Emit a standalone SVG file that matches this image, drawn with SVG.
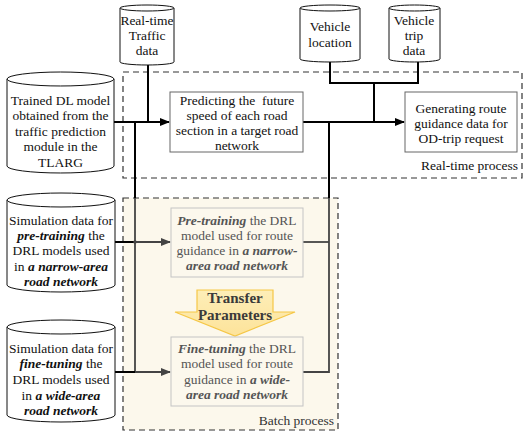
<svg xmlns="http://www.w3.org/2000/svg" width="523" height="435" viewBox="0 0 523 435" font-family="Liberation Serif, DejaVu Serif, serif">
<defs>
<marker id="ah" markerWidth="10" markerHeight="8" refX="9" refY="4" orient="auto" markerUnits="userSpaceOnUse"><path d="M0,0 L10,4 L0,8 Z" fill="#000"/></marker>
<marker id="ahg" markerWidth="10" markerHeight="8" refX="9" refY="4" orient="auto" markerUnits="userSpaceOnUse"><path d="M0,0 L10,4 L0,8 Z" fill="#444"/></marker>
<linearGradient id="yg" x1="0" y1="0" x2="0" y2="1"><stop offset="0" stop-color="#fdeeb8"/><stop offset="1" stop-color="#fde39a"/></linearGradient>
</defs>
<style>
text{font-family:'Liberation Serif','Times New Roman',serif;font-size:13.5px;fill:#111;text-anchor:middle}
.g text{fill:#555}
.bi{font-weight:bold;font-style:italic}
.cyl{fill:#fff;stroke:#111;stroke-width:1}
.box{fill:#fff;stroke:#666;stroke-width:1}
.bbox{fill:#fcf8ed;stroke:#c4c4c4;stroke-width:1}
.dash{fill:none;stroke:#333;stroke-width:1.2;stroke-dasharray:6,4}
.ln{fill:none;stroke:#000;stroke-width:2}
.lg{fill:none;stroke:#444;stroke-width:1.8}
.lbl{text-anchor:end}
</style>

<rect x="123" y="198" width="215" height="232" fill="#fcf8ec"/>
<rect class="dash" x="123" y="198" width="215" height="232"/>
<rect class="dash" x="123" y="72" width="399" height="106"/>

<g id="connectors">
<path class="ln" d="M148,65 V122"/>
<path class="ln" d="M114,122 H169" marker-end="url(#ah)"/>
<path class="ln" d="M135,122 V198"/>
<path class="lg" d="M135,198 V372"/>
<path class="ln" d="M115,242 H135"/>
<path class="lg" d="M135,242 H170" marker-end="url(#ahg)"/>
<path class="ln" d="M115,372 H135"/>
<path class="lg" d="M135,372 H170" marker-end="url(#ahg)"/>
<path class="ln" d="M303,122 H404" marker-end="url(#ah)"/>
<path class="ln" d="M330,62 V83 H418 V62"/>
<path class="ln" d="M374,83 V122"/>
<path class="ln" d="M329,122 V198"/>
<path class="lg" d="M329,198 V372 H303"/>
<path class="lg" d="M303,242 H329"/>
<circle cx="135" cy="242" r="1.8" fill="#444"/>
</g>

<g id="realtime-traffic">
<path class="cyl" d="M120,8 A27,3 0 0 1 174,8 V62 A27,3 0 0 1 120,62 Z"/>
<path class="cyl" d="M120,8 A27,3 0 0 0 174,8"/>
<text x="147" y="24.5">Real-time</text>
<text x="147" y="39.5">Traffic</text>
<text x="147" y="54.5">data</text>
</g>

<g id="vehicle-location">
<path class="cyl" d="M300,8 A30,3 0 0 1 360,8 V59 A30,3 0 0 1 300,59 Z"/>
<path class="cyl" d="M300,8 A30,3 0 0 0 360,8"/>
<text x="330" y="31">Vehicle</text>
<text x="330" y="47">location</text>
</g>

<g id="vehicle-trip">
<path class="cyl" d="M389,8 A25.5,3 0 0 1 440,8 V59 A25.5,3 0 0 1 389,59 Z"/>
<path class="cyl" d="M389,8 A25.5,3 0 0 0 440,8"/>
<text x="414" y="24.5">Vehicle</text>
<text x="414" y="39.5">trip</text>
<text x="414" y="54.5">data</text>
</g>

<g id="trained-dl">
<path class="cyl" d="M7,79 A53.5,7 0 0 1 114,79 V166 A53.5,7 0 0 1 7,166 Z"/>
<path class="cyl" d="M7,79 A53.5,7 0 0 0 114,79"/>
<text x="60.5" y="104.5">Trained DL model</text>
<text x="60.5" y="120">obtained from the</text>
<text x="60.5" y="135.5">traffic prediction</text>
<text x="60.5" y="151">module in the</text>
<text x="60.5" y="166.5">TLARG</text>
</g>

<g id="predicting">
<rect class="box" x="170" y="92" width="133" height="60"/>
<text x="237" y="104.5" xml:space="preserve">Predicting the  future</text>
<text x="237" y="119.5">speed of each road</text>
<text x="237" y="134.5">section in a target road</text>
<text x="237" y="150">network</text>
</g>

<g id="generating">
<rect class="box" x="405" y="92" width="112" height="60"/>
<text x="461" y="112.5">Generating route</text>
<text x="461" y="127.5">guidance data for</text>
<text x="461" y="142.5">OD-trip request</text>
</g>

<text class="lbl" x="518" y="169.5">Real-time process</text>

<g id="sim-pretraining">
<path class="cyl" d="M7,200 A54,7 0 0 1 115,200 V285 A54,7 0 0 1 7,285 Z"/>
<path class="cyl" d="M7,200 A54,7 0 0 0 115,200"/>
<text x="61" y="224.5">Simulation data for</text>
<text x="61" y="239.5"><tspan class="bi">pre-training</tspan> the</text>
<text x="61" y="254.5">DRL models used</text>
<text x="61" y="270.5">in <tspan class="bi">a narrow-area</tspan></text>
<text x="61" y="285.5" class="bi">road network</text>
</g>

<g id="sim-finetuning">
<path class="cyl" d="M7,327 A54,7 0 0 1 115,327 V415 A54,7 0 0 1 7,415 Z"/>
<path class="cyl" d="M7,327 A54,7 0 0 0 115,327"/>
<text x="61" y="352.5">Simulation data for</text>
<text x="61" y="367.5"><tspan class="bi">fine-tuning</tspan> the</text>
<text x="61" y="383.5">DRL models used</text>
<text x="61" y="399.5">in <tspan class="bi">a wide-area</tspan></text>
<text x="61" y="414.5" class="bi">road network</text>
</g>

<g id="pretraining" class="g">
<rect class="bbox" x="171" y="208" width="132" height="69"/>
<text x="237" y="224.5"><tspan class="bi">Pre-training</tspan> the DRL</text>
<text x="237" y="239.5">model used for route</text>
<text x="237" y="255">guidance in <tspan class="bi">a narrow-</tspan></text>
<text x="237" y="270" class="bi">area road network</text>
</g>

<g id="transfer">
<polygon points="197,290 273,290 273,312 295,312 235,336 175,312 197,312" fill="url(#yg)" stroke="#f5c747" stroke-width="1.2"/>
<text x="235" y="303" style="font-weight:bold;font-size:15px;fill:#3a3a3a">Transfer</text>
<text x="235" y="320" style="font-weight:bold;font-size:15px;fill:#3a3a3a">Parameters</text>
</g>

<g id="finetuning" class="g">
<rect class="bbox" x="171" y="337" width="132" height="69"/>
<text x="237" y="352.5"><tspan class="bi">Fine-tuning</tspan> the DRL</text>
<text x="237" y="367.5">model used for route</text>
<text x="237" y="383.5">guidance in <tspan class="bi">a wide-</tspan></text>
<text x="237" y="398.5" class="bi">area road network</text>
</g>

<text class="lbl" x="334" y="424.5" style="fill:#333">Batch process</text>
</svg>
